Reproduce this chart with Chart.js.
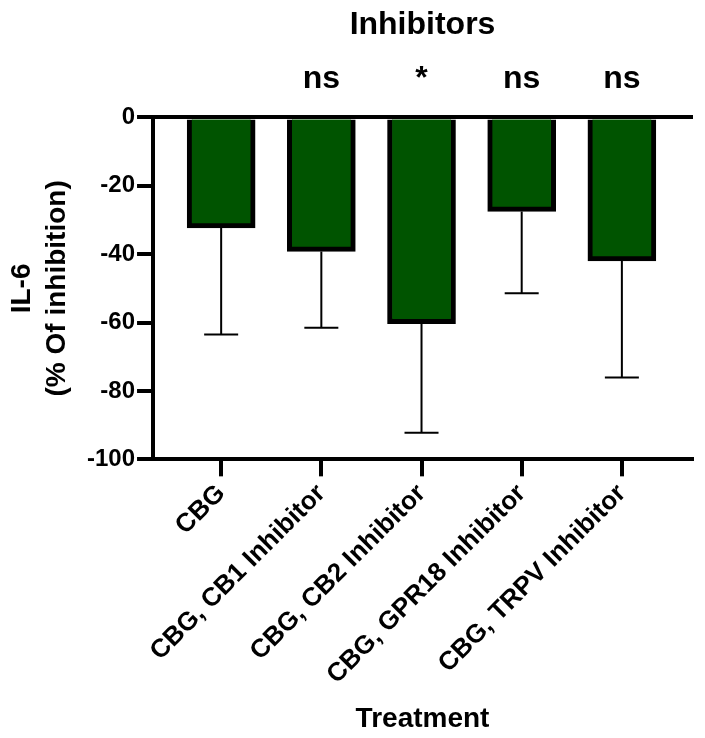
<!DOCTYPE html>
<html>
<head>
<meta charset="utf-8">
<script src="https://cdn.jsdelivr.net/npm/chart.js@4"></script>
<style>
  html, body { margin: 0; padding: 0; background: #fff; }
  #wrap { width: 705px; height: 738px; }
</style>
</head>
<body>
<div id="wrap"><canvas id="il6Chart"></canvas></div>
<script>
const categories = ['CBG', 'CBG, CB1 Inhibitor', 'CBG, CB2 Inhibitor', 'CBG, GPR18 Inhibitor', 'CBG, TRPV Inhibitor'];
const meanValues = [-32.3, -39.2, -60.3, -27.5, -42.0];
const errorValues = [31.2, 22.3, 31.9, 23.9, 34.1]; // drawn downward only
const sigLabels = ['', 'ns', '*', 'ns', 'ns'];
const yMin = -100, yMax = 0, yStep = 20;

Chart.defaults.font.family = "'Liberation Sans', Arial, sans-serif";
Chart.defaults.font.weight = 'bold';
Chart.defaults.color = '#000';

// error bars under the bars, significance marks above them
const annotations = {
    id: 'annotations',
    beforeDatasetsDraw(chart) {
        const ctx = chart.ctx, x = chart.scales.x, y = chart.scales.y;
        ctx.save();
        ctx.strokeStyle = '#000';
        ctx.lineWidth = 2;
        meanValues.forEach(function (v, i) {
            const px = x.getPixelForValue(i);
            const top = y.getPixelForValue(v);
            const bot = y.getPixelForValue(v - errorValues[i]);
            ctx.beginPath();
            ctx.moveTo(px, top);
            ctx.lineTo(px, bot);
            ctx.moveTo(px - 17, bot);
            ctx.lineTo(px + 17, bot);
            ctx.stroke();
        });
        ctx.restore();
    },
    afterDatasetsDraw(chart) {
        const ctx = chart.ctx, x = chart.scales.x;
        ctx.save();
        ctx.fillStyle = '#000';
        ctx.font = "bold 32px 'Liberation Sans', Arial, sans-serif";
        ctx.textAlign = 'center';
        ctx.textBaseline = 'middle';
        sigLabels.forEach(function (s, i) {
            if (s) ctx.fillText(s, x.getPixelForValue(i), chart.chartArea.top - 38);
        });
        ctx.restore();
    }
};

const ctx = document.getElementById('il6Chart').getContext('2d');
const il6Chart = new Chart(ctx, {
    type: 'bar',
    data: {
        datasets: [{
            data: meanValues.map(function (v, i) { return { x: i, y: v }; }),
            backgroundColor: '#005400',
            borderColor: '#000',
            borderWidth: 5,
            barThickness: 68
        }]
    },
    options: {
        responsive: true,
        maintainAspectRatio: false,
        animation: false,
        layout: { padding: { left: 5, right: 13, top: 0, bottom: 2 } },
        plugins: {
            legend: { display: false },
            tooltip: { enabled: false },
            title: {
                display: true,
                fullSize: false,
                text: 'Inhibitors',
                font: { size: 32, weight: 'bold' },
                color: '#000',
                padding: { top: 6, bottom: 73 }
            }
        },
        scales: {
            x: {
                type: 'linear',
                position: 'bottom',
                offset: false,
                min: -0.68,
                max: 4.7,
                afterBuildTicks: function (axis) {
                    axis.ticks = categories.map(function (c, i) { return { value: i }; });
                },
                ticks: {
                    callback: function (v) { return categories[v]; },
                    font: { size: 26, weight: 'bold' },
                    color: '#000',
                    minRotation: 45,
                    maxRotation: 45,
                    padding: 2
                },
                grid: { offset: false, drawOnChartArea: false, color: '#000', lineWidth: 4, tickLength: 17 },
                border: { display: true, color: '#000', width: 4 },
                title: {
                    display: true,
                    text: 'Treatment',
                    font: { size: 28, weight: 'bold' },
                    color: '#000',
                    padding: { top: 10, bottom: 0 }
                }
            },
            x2: {
                type: 'linear',
                position: 'top',
                offset: false,
                min: -0.68,
                max: 4.7,
                ticks: { display: false },
                grid: { display: false, drawTicks: false },
                border: { display: true, color: '#000', width: 4 }
            },
            y: {
                min: yMin,
                max: yMax,
                ticks: {
                    stepSize: yStep,
                    font: { size: 24, weight: 'bold' },
                    color: '#000',
                    padding: 2
                },
                grid: { drawOnChartArea: false, color: '#000', lineWidth: 4, tickLength: 16 },
                border: { display: true, color: '#000', width: 4 },
                title: {
                    display: true,
                    text: ['IL-6', '(% Of inhibition)'],
                    font: { size: 28, weight: 'bold', lineHeight: 1.25 },
                    color: '#000',
                    padding: { top: 0, bottom: 10 }
                }
            }
        }
    },
    plugins: [annotations]
});
</script>
</body>
</html>
